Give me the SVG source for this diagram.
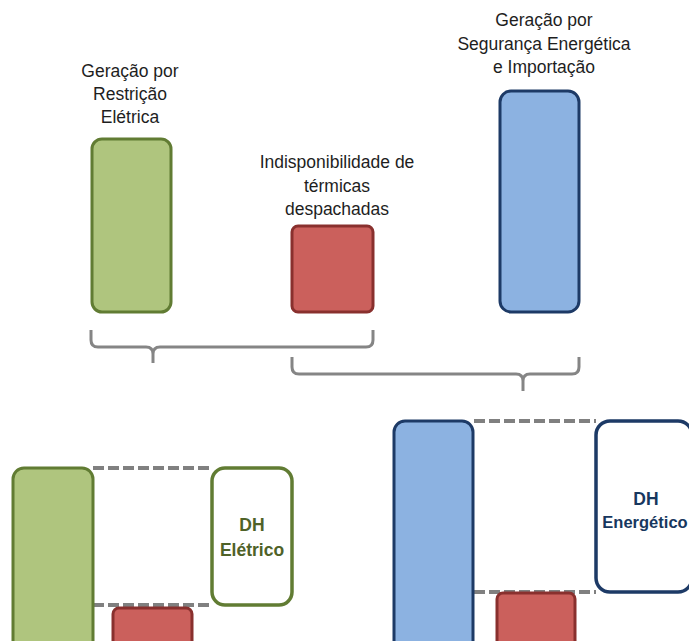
<svg xmlns="http://www.w3.org/2000/svg" width="689" height="641" viewBox="0 0 689 641">
<style>
.t{font-family:"Liberation Sans",Arial,sans-serif;font-size:17.5px;fill:#1e1e1e;text-anchor:middle}
.b{font-family:"Liberation Sans",Arial,sans-serif;font-size:17.5px;font-weight:bold;text-anchor:middle}
.g{fill:#afc57e;stroke:#617c33;stroke-width:3}
.r{fill:#cb605c;stroke:#89302e;stroke-width:3}
.bl{fill:#8cb2e1;stroke:#1d3a66;stroke-width:3}
.dash{stroke:#808080;stroke-width:4;stroke-dasharray:11 4;fill:none}
.br{fill:none;stroke:#858585;stroke-width:3;stroke-linejoin:round}
</style>
<rect width="689" height="641" fill="#ffffff"/>
<g id="node-green-top">
<rect class="g" x="92" y="139" width="79" height="173" rx="10"/>
<text class="t" x="130" y="77">Geração por</text>
<text class="t" x="130" y="100">Restrição</text>
<text class="t" x="130" y="123">Elétrica</text>
</g>
<g id="node-red-top">
<rect class="r" x="292" y="226" width="81" height="86" rx="6"/>
<text class="t" x="337" y="168">Indisponibilidade de</text>
<text class="t" x="337" y="192">térmicas</text>
<text class="t" x="337" y="215">despachadas</text>
</g>
<g id="node-blue-top">
<rect class="bl" x="500" y="91" width="79" height="221" rx="11"/>
<text class="t" x="544" y="26">Geração por</text>
<text class="t" x="544" y="50">Segurança Energética</text>
<text class="t" x="544" y="73">e Importação</text>
</g>
<g id="connectors">
<path class="br" d="M91,330 L91,340 Q91,347 98,347 L146,347 Q153,347 153,354 L153,363 M153,363 L153,354 Q153,347 160,347 L366,347 Q373,347 373,340 L373,330"/>
<path class="br" d="M292,357 L292,367 Q292,374 299,374 L516,374 Q523,374 523,381 L523,391 M523,391 L523,381 Q523,374 530,374 L572,374 Q579,374 579,367 L579,357"/>
<line class="dash" x1="93" y1="468" x2="212" y2="468"/>
<line class="dash" x1="93" y1="605" x2="212" y2="605"/>
<line class="dash" x1="474" y1="421" x2="596" y2="421"/>
<line class="dash" x1="474" y1="592" x2="596" y2="592"/>
</g>
<g id="node-green-bottom">
<rect class="g" x="13" y="468" width="80" height="190" rx="11"/>
</g>
<g id="node-red-bottom-left">
<rect class="r" x="113" y="608" width="79" height="50" rx="6"/>
</g>
<g id="node-dh-eletrico">
<rect x="212" y="468" width="80" height="137" rx="13" fill="#ffffff" stroke="#617c33" stroke-width="3.5"/>
<text class="b" x="252" y="531" fill="#4f6228">DH</text>
<text class="b" x="252" y="556" fill="#4f6228">Elétrico</text>
</g>
<g id="node-blue-bottom">
<rect class="bl" x="394" y="421" width="79" height="240" rx="11"/>
</g>
<g id="node-red-bottom-right">
<rect class="r" x="497" y="593" width="78" height="60" rx="6"/>
</g>
<g id="node-dh-energetico">
<rect x="596" y="421" width="96" height="171" rx="14" fill="#ffffff" stroke="#1d3a66" stroke-width="3.5"/>
<text class="b" x="646" y="505" fill="#17375e">DH</text>
<text class="b" x="645" y="528" fill="#17375e" style="font-size:16.5px">Energético</text>
</g>
</svg>
